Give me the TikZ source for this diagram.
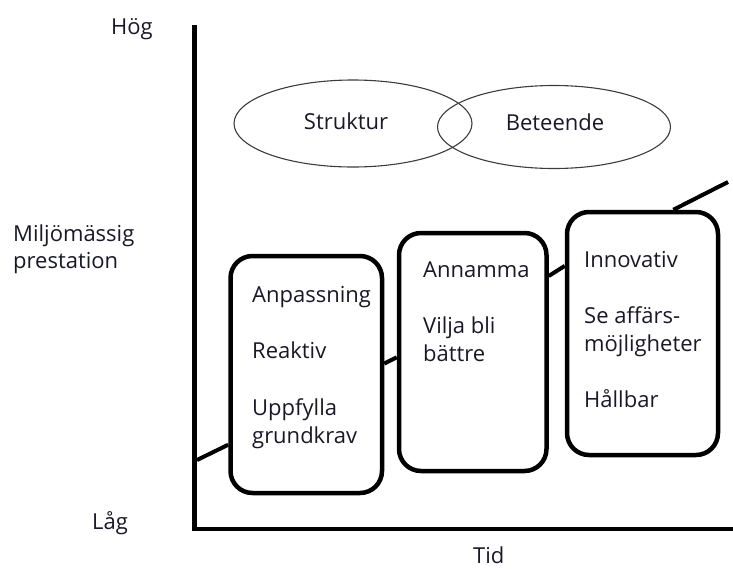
\documentclass[tikz,border=0pt]{standalone}
\usepackage{fontspec}
\setmainfont{Open Sans}
\usetikzlibrary{shapes.geometric}
\definecolor{ink}{RGB}{24,24,40}
\definecolor{rim}{RGB}{60,60,60}
\begin{document}
\begin{tikzpicture}[x=1pt,y=-1pt,
  lbl/.style={font=\fontsize{22}{28}\selectfont, text=ink, inner sep=0pt, anchor=base west},
  stage/.style={draw=black, line width=4.5pt, rounded corners=22pt, rectangle, inner sep=0pt},
  oval/.style={draw=rim, line width=1.1pt, ellipse, inner sep=0pt},
  link/.style={draw=black, line width=4pt},
  axis/.style={draw=black, line width=4.5pt, line cap=rect}]
\useasboundingbox (0,0) rectangle (733,568);

% axes
\coordinate (axtop) at (194.5,27);
\coordinate (origin) at (194.5,529);
\coordinate (axright) at (735,529);
\draw[axis] (axtop) -- (origin) -- (axright);

% axis labels
\node[lbl] (hog) at (111,34) {Hög};
\node[lbl] (mp1) at (13,241) {Miljömässig};
\node[lbl] (mp2) at (13,268) {prestation};
\node[lbl] (lag) at (92,529) {Låg};
\node[lbl] (tid) at (473,563) {Tid};

% overlapping ovals
\node[oval, minimum width=238pt, minimum height=87pt] (struk) at (353,123.5) {};
\node[oval, minimum width=233pt, minimum height=83pt] (beteo) at (554,127) {};
\node[font=\fontsize{22}{28}\selectfont, text=ink, inner sep=0pt, anchor=base] (tstruk) at (346,129) {Struktur};
\node[font=\fontsize{22}{28}\selectfont, text=ink, inner sep=0pt, anchor=base] (tbete) at (555,130) {Beteende};

% stage boxes
\node[stage, minimum width=151.5pt, minimum height=237pt] (b1) at (306.25,374.5) {};
\node[stage, minimum width=147.5pt, minimum height=238pt] (b2) at (472.75,352) {};
\node[stage, minimum width=151pt, minimum height=243pt] (b3) at (642.5,333.5) {};

% rising line through the stages
\coordinate (lstart) at (197,460);
\coordinate (lend) at (728,182);
\draw[link] (lstart) -- (b1.222);
\draw[link] (b1.8) -- (b2.184);
\draw[link] (b2.45) -- (b3.139);
\draw[link] (b3.76) -- (lend);

% box texts
\node[lbl] (a1) at (252,302) {Anpassning};
\node[lbl] (a2) at (252,358) {Reaktiv};
\node[lbl] (a3) at (252,415) {Uppfylla};
\node[lbl] (a4) at (252,443) {grundkrav};

\node[lbl] (c1) at (423,277) {Annamma};
\node[lbl] (c2) at (423,333) {Vilja bli};
\node[lbl] (c3) at (423,361) {bättre};

\node[lbl] (d1) at (584,267) {Innovativ};
\node[lbl] (d2) at (584,323) {Se affärs-};
\node[lbl] (d3) at (584,351) {möjligheter};
\node[lbl] (d4) at (584,407) {Hållbar};
\end{tikzpicture}
\end{document}
